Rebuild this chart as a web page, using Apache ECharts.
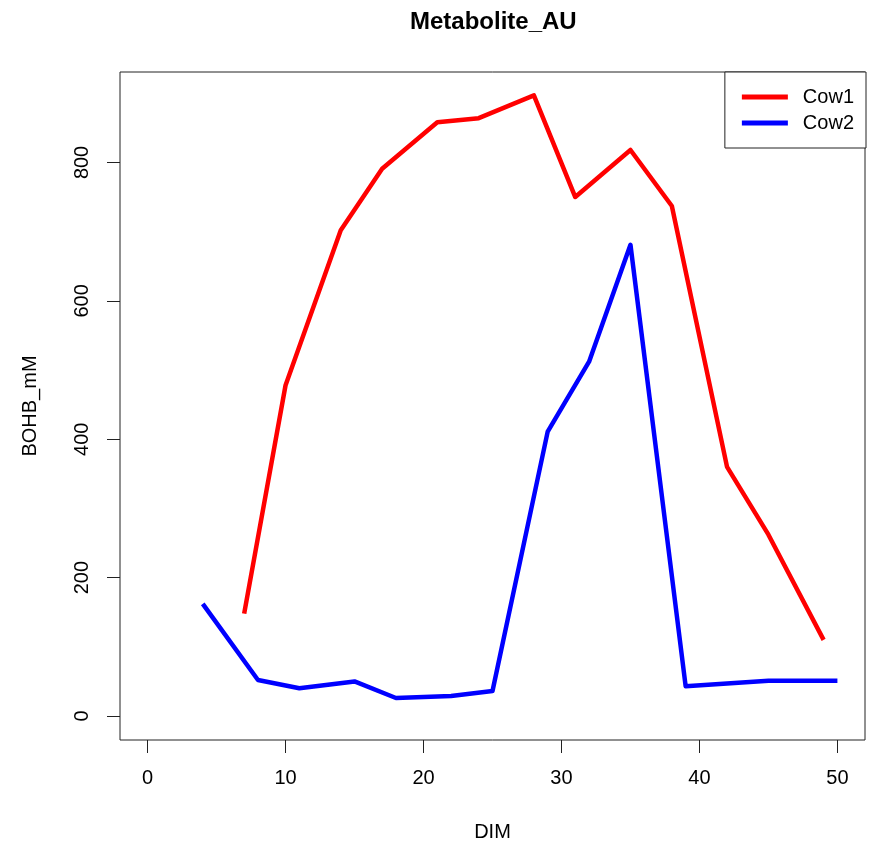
<!DOCTYPE html>
<html>
<head>
<meta charset="utf-8">
<script src="https://cdn.jsdelivr.net/npm/echarts@6/dist/echarts.min.js"></script>
<style>
  html, body { margin: 0; padding: 0; background: #fff; }
  #chart { width: 872px; height: 842px; }
</style>
</head>
<body>
<div id="chart"></div>
<script>
// Days in milk and BOHB readings for each cow
const cow1Dim = [7, 10, 14, 17, 21, 24, 28, 31, 35, 38, 42, 45, 49];
const cow1Bohb = [148, 478, 702, 791, 858, 864, 897, 750, 818, 737, 360, 262, 110];

const cow2Dim = [4, 8, 11, 15, 18, 22, 25, 29, 32, 35, 39, 42, 45, 50];
const cow2Bohb = [162, 52, 40, 50, 26, 29, 36, 411, 512, 681, 43, 47, 51, 51];

const xTicks = [0, 10, 20, 30, 40, 50];
const yTicks = [0, 200, 400, 600, 800];

const pairs = (xs, ys) => xs.map((x, i) => [x, ys[i]]);

const font = '"Liberation Sans", Arial, sans-serif';

const chart = echarts.init(document.getElementById('chart'), null, { renderer: 'canvas' });

chart.setOption({
  animation: false,
  backgroundColor: '#ffffff',
  title: {
    text: 'Metabolite_AU',
    left: 405,
    top: 5,
    textStyle: { fontFamily: font, fontSize: 24, fontWeight: 'bold', color: '#000' }
  },
  grid: {
    left: 120, right: 7, top: 72, bottom: 102,
    outerBoundsMode: 'none',
    containLabel: false,
    show: true, borderColor: '#222', borderWidth: 1, backgroundColor: 'transparent'
  },
  legend: {
    orient: 'vertical',
    right: 6,
    top: 72,
    backgroundColor: '#fff',
    borderColor: '#222',
    borderWidth: 1,
    borderRadius: 0,
    padding: [15, 12, 15, 17],
    itemGap: 6,
    itemWidth: 46,
    itemHeight: 5,
    icon: 'rect',
    textStyle: { fontFamily: font, fontSize: 20, color: '#000', padding: [0, 0, 0, 10] },
    data: ['Cow1', 'Cow2']
  },
  xAxis: {
    type: 'value',
    min: -2,
    max: 52,
    name: 'DIM',
    nameLocation: 'middle',
    nameGap: 82,
    nameTextStyle: { fontFamily: font, fontSize: 20, color: '#000' },
    axisLine: { show: false, onZero: false },
    splitLine: { show: false },
    axisTick: {
      show: true, inside: false, length: 13, customValues: xTicks,
      lineStyle: { color: '#222', width: 1 }
    },
    axisLabel: {
      customValues: xTicks, margin: 28,
      fontFamily: font, fontSize: 20, color: '#000'
    }
  },
  yAxis: {
    type: 'value',
    min: -34.7,
    max: 930.7,
    name: 'BOHB_mM',
    nameLocation: 'middle',
    nameGap: 80,
    nameRotate: 90,
    nameTextStyle: { fontFamily: font, fontSize: 20, color: '#000' },
    axisLine: { show: false, onZero: false },
    splitLine: { show: false },
    axisTick: {
      show: true, inside: false, length: 13, customValues: yTicks,
      lineStyle: { color: '#222', width: 1 }
    },
    axisLabel: {
      customValues: yTicks, margin: 28, rotate: 90,
      fontFamily: font, fontSize: 20, color: '#000'
    }
  },
  series: [
    {
      name: 'Cow1',
      type: 'line',
      data: pairs(cow1Dim, cow1Bohb),
      showSymbol: false,
      symbol: 'none',
      color: '#ff0000',
      lineStyle: { color: '#ff0000', width: 4.5, join: 'round', cap: 'butt' }
    },
    {
      name: 'Cow2',
      type: 'line',
      data: pairs(cow2Dim, cow2Bohb),
      showSymbol: false,
      symbol: 'none',
      color: '#0000ff',
      lineStyle: { color: '#0000ff', width: 4.5, join: 'round', cap: 'butt' }
    }
  ]
});
</script>
</body>
</html>
